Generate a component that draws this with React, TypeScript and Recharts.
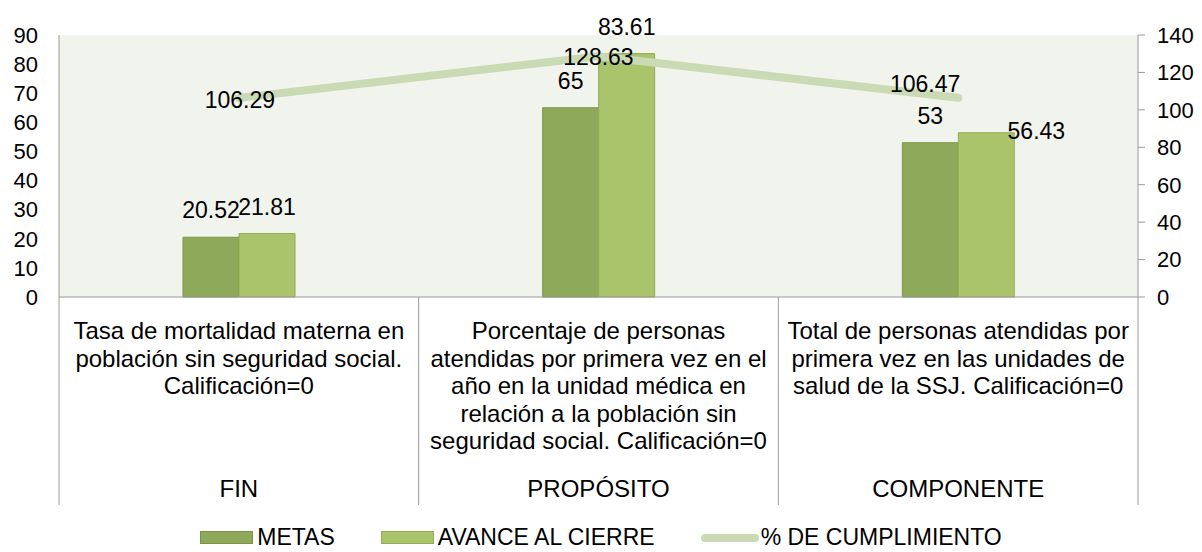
import { ComposedChart, Bar, Line, XAxis, YAxis, CartesianGrid, Legend, LabelList } from 'recharts'

// ── Data ─────────────────────────────────────────────────────────────────────

const CATEGORY_LINES = [
  ['Tasa de mortalidad materna en', 'población sin seguridad social.', 'Calificación=0'],
  [
    'Porcentaje de personas',
    'atendidas por primera vez en el',
    'año en la unidad médica en',
    'relación a la población sin',
    'seguridad social. Calificación=0',
  ],
  ['Total de personas atendidas por', 'primera vez en las unidades de', 'salud de la SSJ. Calificación=0'],
]
const CATEGORIES = CATEGORY_LINES.map((l) => l.join(' '))
const GROUPS = ['FIN', 'PROPÓSITO', 'COMPONENTE']
const METAS = [20.52, 65, 53]
const AVANCE = [21.81, 83.61, 56.43]
const CUMPLIMIENTO = [106.29, 128.63, 106.47]
const LEFT_TICKS = [0, 10, 20, 30, 40, 50, 60, 70, 80, 90]
const RIGHT_TICKS = [0, 20, 40, 60, 80, 100, 120, 140]

const data = CATEGORIES.map((name, i) => ({
  name,
  metas: METAS[i],
  avance: AVANCE[i],
  cumplimiento: CUMPLIMIENTO[i],
}))

// ── Layout / style ───────────────────────────────────────────────────────────

const W = 1202
const H = 552
const TOP = 35
const LEFT_W = 59
const RIGHT_W = 64
const XAXIS_H = 230
const LEGEND_H = 25
const PLOT_BOTTOM = H - LEGEND_H - XAXIS_H
const BAND = (W - LEFT_W - RIGHT_W) / CATEGORIES.length
const FONT = '"Liberation Sans", Arial, sans-serif'
const AXIS = '#9a9a9a'
const C_METAS = '#8fa95a'
const C_METAS_EDGE = '#7b9544'
const C_AVANCE = '#aac46c'
const C_AVANCE_EDGE = '#93ad55'
const C_LINE = '#cadab5'

// label nudges (Excel placed a couple of labels off-centre)
const AVANCE_NUDGE = [{ dx: 0, dy: 0 }, { dx: 0, dy: 0 }, { dx: 50, dy: 25 }]
const LINE_NUDGE = [{ dx: 1, dy: 2 }, { dx: 0, dy: 1 }, { dx: -33, dy: -14 }]

// ── Pieces ───────────────────────────────────────────────────────────────────

function CategoryTick(props: any) {
  const x = Number(props.x)
  const i = CATEGORIES.indexOf(props.payload?.value)
  const lines = CATEGORY_LINES[i] ?? []
  const half = BAND / 2
  return (
    <g>
      <line x1={x - half} x2={x - half} y1={PLOT_BOTTOM} y2={505} stroke={AXIS} />
      {i === CATEGORIES.length - 1 && (
        <line x1={x + half} x2={x + half} y1={PLOT_BOTTOM} y2={505} stroke={AXIS} />
      )}
      <text textAnchor="middle" fontFamily={FONT} fontSize={24} fill="#000">
        {lines.map((l, k) => (
          <tspan key={k} x={x} y={339 + k * 27.5}>
            {l}
          </tspan>
        ))}
      </text>
      <text x={x} y={497} textAnchor="middle" fontFamily={FONT} fontSize={24} fill="#000">
        {GROUPS[i]}
      </text>
    </g>
  )
}

const barLabel = (nudge?: { dx: number; dy: number }[]) => (props: any) => {
  const { x, y, width, value, index } = props
  const n = nudge?.[index] ?? { dx: 0, dy: 0 }
  return (
    <text
      x={Number(x) + Number(width) / 2 + n.dx}
      y={Number(y) - 27 + n.dy}
      textAnchor="middle"
      dominantBaseline="central"
      fontFamily={FONT}
      fontSize={23}
      fill="#000"
    >
      {value}
    </text>
  )
}

const lineLabel = (props: any) => {
  const { x, y, value, index } = props
  const n = LINE_NUDGE[index] ?? { dx: 0, dy: 0 }
  return (
    <text
      x={Number(x) + n.dx}
      y={Number(y) + n.dy}
      textAnchor="middle"
      dominantBaseline="central"
      fontFamily={FONT}
      fontSize={23}
      fill="#000"
    >
      {value}
    </text>
  )
}

function LegendBox() {
  const item = { display: 'flex', alignItems: 'center', gap: 4 }
  const txt = { fontFamily: FONT, fontSize: 23, lineHeight: `${LEGEND_H}px`, color: '#000' }
  return (
    <div style={{ display: 'flex', justifyContent: 'center', alignItems: 'center', gap: 46, height: LEGEND_H }}>
      <div style={item}>
        <div style={{ width: 51, height: 11, background: C_METAS, border: `1px solid ${C_METAS_EDGE}` }} />
        <span style={txt}>METAS</span>
      </div>
      <div style={item}>
        <div style={{ width: 51, height: 11, background: C_AVANCE, border: `1px solid ${C_AVANCE_EDGE}` }} />
        <span style={txt}>AVANCE AL CIERRE</span>
      </div>
      <div style={{ ...item, gap: 2 }}>
        <div style={{ width: 58, height: 8, borderRadius: 4, background: C_LINE }} />
        <span style={txt}>% DE CUMPLIMIENTO</span>
      </div>
    </div>
  )
}

// ── Chart ────────────────────────────────────────────────────────────────────

export default function App() {
  return (
    <div style={{ position: 'absolute', left: 0, top: 0, width: W, height: H, overflow: 'hidden', background: '#fff' }}>
      <ComposedChart width={W} height={H} data={data} margin={{ top: TOP, right: 0, bottom: 0, left: 0 }} barGap={0}>
        <CartesianGrid yAxisId="left" horizontal={false} vertical={false} fill="#f1f3ed" />
        <XAxis
          dataKey="name"
          interval={0}
          height={XAXIS_H}
          axisLine={{ stroke: AXIS }}
          tickLine={false}
          tick={<CategoryTick />}
        />
        <YAxis
          yAxisId="left"
          width={LEFT_W}
          domain={[0, 90]}
          ticks={LEFT_TICKS}
          interval={0}
          axisLine={{ stroke: AXIS }}
          tickLine={false}
          tickSize={6}
          tickMargin={15}
          tick={{ fontFamily: FONT, fontSize: 22, fill: '#000' }}
        />
        <YAxis
          yAxisId="right"
          orientation="right"
          width={RIGHT_W}
          domain={[0, 140]}
          ticks={RIGHT_TICKS}
          interval={0}
          axisLine={{ stroke: AXIS }}
          tickLine={{ stroke: AXIS }}
          tickSize={7}
          tickMargin={12}
          tick={{ fontFamily: FONT, fontSize: 22, fill: '#000', textAnchor: 'start' }}
        />
        <Legend
          verticalAlign="bottom"
          wrapperStyle={{ left: 0, top: 525, width: W, height: LEGEND_H }}
          content={() => <LegendBox />}
        />
        <Bar yAxisId="left" dataKey="metas" name="METAS" barSize={56} fill={C_METAS} stroke={C_METAS_EDGE} isAnimationActive={false}>
          <LabelList dataKey="metas" content={barLabel()} />
        </Bar>
        <Bar yAxisId="left" dataKey="avance" name="AVANCE AL CIERRE" barSize={56} fill={C_AVANCE} stroke={C_AVANCE_EDGE} isAnimationActive={false}>
          <LabelList dataKey="avance" content={barLabel(AVANCE_NUDGE)} />
        </Bar>
        <Line
          yAxisId="right"
          type="linear"
          dataKey="cumplimiento"
          name="% DE CUMPLIMIENTO"
          stroke={C_LINE}
          strokeWidth={8}
          strokeLinecap="round"
          dot={false}
          activeDot={false}
          isAnimationActive={false}
        >
          <LabelList dataKey="cumplimiento" content={lineLabel} />
        </Line>
      </ComposedChart>
    </div>
  )
}
